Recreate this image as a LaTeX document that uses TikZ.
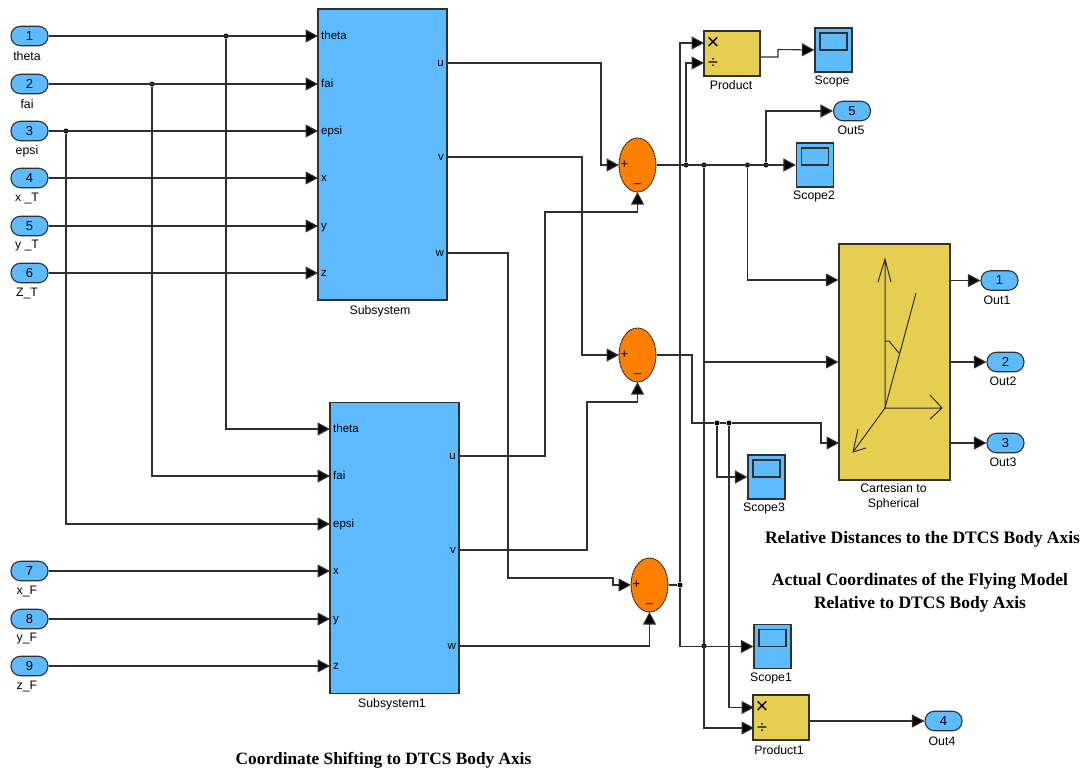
\documentclass[tikz,border=0pt]{standalone}
\usepackage{fontspec}
\setmainfont{Liberation Sans}
\newfontfamily\capfont{Liberation Serif}
\usetikzlibrary{arrows.meta,positioning,shapes.geometric}
\definecolor{blk}{HTML}{5FBBFF}
\definecolor{org}{HTML}{FF8000}
\definecolor{yel}{HTML}{E6CF50}
\definecolor{ink}{HTML}{303030}
\tikzset{
  wire/.style={draw=ink,line width=1.1pt},
  arr/.style={wire,-{Triangle[length=12.5pt,width=13pt,fill=black]}},
  pill/.style={draw=ink,line width=1.1pt,fill=blk,rounded corners=9.5pt,minimum width=37pt,minimum height=19.5pt,inner sep=0pt,font=\fontsize{13}{14}\selectfont,text=black},
  lbl/.style={inner sep=0pt,font=\fontsize{12.3}{14.5}\selectfont,text=black,align=center},
  plbl/.style={inner sep=0pt,font=\fontsize{11.5}{13}\selectfont,text=black,text height=8pt,text depth=2pt},
  captxt/.style={inner sep=0pt,font=\capfont\bfseries\fontsize{17.5}{23}\selectfont,text=black,align=center},
  subblk/.style={draw=ink,line width=1.2pt,fill=blk,minimum width=129pt,minimum height=291pt,inner sep=0pt},
  prod/.style={draw=ink,line width=1.2pt,fill=yel,minimum width=56pt,minimum height=45pt,inner sep=0pt},
  sumb/.style={draw=ink,line width=1pt,dash pattern=on 2pt off .6pt,fill=org,ellipse,minimum width=37pt,minimum height=54pt,inner sep=0pt},
  scopeb/.style={draw=ink,line width=1.2pt,fill=blk,minimum width=37pt,minimum height=44pt,inner sep=0pt},
  screen/.style={draw=ink,line width=1.2pt,fill=blk,minimum width=27pt,minimum height=17pt,inner sep=0pt},
  jdot/.style={circle,fill=black,minimum size=5pt,inner sep=0pt},
  icon/.style={draw=ink,line width=1pt},
}
\begin{document}
\begin{tikzpicture}[x=1pt,y=-1pt]
\useasboundingbox (0,0) rectangle (1087,772);
% Inports
\foreach \n/\y/\lab in {1/36/theta,2/84/fai,3/131/epsi,4/178/x \_T,5/226/y \_T,6/273/Z\_T,7/571/x\_F,8/619/y\_F,9/666/z\_F}{
  \node[pill] (in\n) at (29.5,\y) {\n};
  \node[lbl] (inl\n) at (27,\y+20) {\lab};
}
% Subsystems
\node[subblk] (sa) at (382.5,154.5) {};
\node[subblk] (sb) at (394.5,548) {};
\node[lbl] (sal) at (380,311) {Subsystem};
\node[lbl] (sbl) at (392,704) {Subsystem1};
\foreach \i/\y/\lab in {1/36/theta,2/84/fai,3/131/epsi,4/178/x,5/226/y,6/273/z}{
  \coordinate (sai\i) at (318,\y);
  \node[plbl,anchor=west] (sap\i) at (321,\y) {\lab};
}
\foreach \i/\y/\lab in {1/429/theta,2/476/fai,3/524/epsi,4/571/x,5/619/y,6/666/z}{
  \coordinate (sbi\i) at (330,\y);
  \node[plbl,anchor=west] (sbp\i) at (333,\y) {\lab};
}
\foreach \i/\y/\lab in {1/63/u,2/157/v,3/253/w}{
  \coordinate (sao\i) at (447,\y);
  \node[plbl,anchor=east] (saq\i) at (444,\y) {\lab};
}
\foreach \i/\y/\lab in {1/456/u,2/550/v,3/646/w}{
  \coordinate (sbo\i) at (459,\y);
  \node[plbl,anchor=east] (sbq\i) at (456,\y) {\lab};
}
% Sums
\foreach \n/\x/\y in {1/637.5/165,2/637.5/355,3/649.5/585}{
  \node[sumb] (sum\n) at (\x,\y) {};
  \node[inner sep=0pt,font=\fontsize{13}{13}\selectfont] (sump\n) at (\x-13,\y) {+};
  \node[inner sep=0pt,font=\fontsize{13}{13}\selectfont] (summ\n) at (\x,\y+21) {--};
}
% Products
\node[prod] (p0) at (732,53.5) {};
\node[lbl,font=\fontsize{22}{22}\selectfont] (p0x) at (713,43.5) {×};
\node[lbl,font=\fontsize{18}{18}\selectfont] (p0d) at (713,63.5) {÷};
\node[lbl] (p0l) at (731,85) {Product};
\node[prod] (p1) at (781,717.5) {};
\node[lbl,font=\fontsize{22}{22}\selectfont] (p1x) at (762,707.5) {×};
\node[lbl,font=\fontsize{18}{18}\selectfont] (p1d) at (762,728) {÷};
\node[lbl] (p1l) at (779,750) {Product1};
% Scopes
\foreach \n/\x/\y/\t/\lx in {a/833.5/50/Scope/832,b/815/165/Scope2/814,c/766.5/477/Scope3/764,d/772.5/646.5/Scope1/771}{
  \node[scopeb] (sc\n) at (\x,\y) {};
  \node[screen] (scr\n) at (\x,\y-8.5) {};
  \node[lbl] (scl\n) at (\lx,\y+31.5) {\t};
}
% Cartesian block
\node[draw=ink,line width=1.2pt,fill=yel,minimum width=111pt,minimum height=236pt,inner sep=0pt] (cs) at (894.5,362) {};
\node[lbl] (csl) at (893.5,497) {Cartesian to\\Spherical};
\draw[icon] (885,408) -- (885,259) (878,282) -- (885,259) -- (891,282);
\draw[icon] (885,408) -- (942,408) (930,395) -- (942,408) -- (930,419);
\draw[icon] (885,408) -- (916,293);
\draw[icon] (885,341) -- (889,341) -- (899,353);
\draw[icon] (885,408) -- (853,452) (858,429) -- (853,452) -- (866,448);
% Outports
\node[pill] (o1) at (999.5,280.5) {1}; \node[lbl] (ol1) at (997,300) {Out1};
\node[pill] (o2) at (1005.5,362) {2}; \node[lbl] (ol2) at (1003,381) {Out2};
\node[pill] (o3) at (1005.5,443) {3}; \node[lbl] (ol3) at (1003,462) {Out3};
\node[pill] (o4) at (943.5,721) {4}; \node[lbl] (ol4) at (942,741) {Out4};
\node[pill] (o5) at (852,111) {5}; \node[lbl] (ol5) at (851,130) {Out5};
% Captions
\node[captxt] (c1) at (922.5,539) {Relative Distances to the DTCS Body Axis};
\node[captxt] (c2) at (920,593) {Actual Coordinates of the Flying Model\\Relative to DTCS Body Axis};
\node[captxt,font=\capfont\bfseries\fontsize{17.3}{23}\selectfont] (c3) at (383.5,760) {Coordinate Shifting to DTCS Body Axis};
% Junctions
\node[jdot] (j1) at (226,36) {};
\node[jdot] (j2) at (152,84) {};
\node[jdot] (j3) at (66,131) {};
\node[jdot] (k1) at (686,165) {};
\node[jdot] (k2) at (704,165) {};
\node[jdot] (k3) at (747.5,165) {};
\node[jdot] (k4) at (766,165) {};
\node[jdot] (m1) at (717,423) {};
\node[jdot] (m2) at (729,423) {};
\node[jdot] (n1) at (680,585) {};
\node[jdot] (n2) at (704,646) {};
\coordinate (bendv) at (704,362);
% Wires: first subsystem inputs
\foreach \i in {1,...,6}{ \draw[arr] (in\i.east) -- (sai\i); }
\foreach \i/\j in {7/4,8/5,9/6}{ \draw[arr] (in\i.east) -- (sbi\j); }
\draw[arr] (j1) |- (sbi1);
\draw[arr] (j2) |- (sbi2);
\draw[arr] (j3) |- (sbi3);
% Subsystem outputs to sums
\coordinate (s1w) at (619,165);
\coordinate (s2w) at (619,355);
\coordinate (s3w) at (631,585);
\coordinate (s1s) at (637.5,192);
\coordinate (s2s) at (637.5,382);
\coordinate (s3s) at (649.5,612);
\draw[arr] (sao1) -- (601,63) -- (601,165) -- (s1w);
\draw[arr] (sao2) -- (582,157) -- (582,355) -- (s2w);
\draw[arr] (sao3) -- (508,253) -- (508,578) -- (613,578) -- (613,585) -- (s3w);
\draw[arr] (sbo1) -- (545,456) -- (545,212) -- (637.5,212) -- (s1s);
\draw[arr] (sbo2) -- (587,550) -- (587,402) -- (637.5,402) -- (s2s);
\draw[arr] (sbo3) -- (649.5,646) -- (s3s);
% Sum 1 output
\coordinate (p0a) at (704,43);
\coordinate (p0b) at (704,63);
\coordinate (p1a) at (754,707.5);
\coordinate (p1b) at (754,728);
\draw[arr] (sum1.east) -- (scb.west);
\draw[arr] (k1) -- (686,63) -- (p0b);
\draw[arr] (k3) |- (cs.west |- 0,280);
\draw[arr] (k4) |- (o5.west);
\draw[wire] (k2) -- (bendv);
\draw[arr] (bendv) -- (cs.west |- bendv);
\draw[arr] (bendv) |- (p1b);
% Sum 2 output
\draw[wire] (sum2.east) -- (692,355) -- (692,423) -- (m1) -- (m2);
\draw[arr] (m2) -- (821,423) -- (821,443) -- (839,443);
\draw[arr] (m1) |- (scc.west);
\draw[arr] (m2) |- (p1a);
% Sum 3 output
\draw[wire] (sum3.east) -- (n1);
\draw[arr] (n1) -- (680,43) -- (p0a);
\draw[arr] (n1) |- (scd.west);
% Products out
\draw[arr] (p0.east |- 0,57) -- (778,57) -- (778,49.5) -- (sca.west);
\draw[arr] (p1.east |- o4) -- (o4.west);
% Cartesian out
\draw[arr] (cs.east |- o1) -- (o1.west);
\draw[arr] (cs.east |- o2) -- (o2.west);
\draw[arr] (cs.east |- o3) -- (o3.west);
\end{tikzpicture}
\end{document}
